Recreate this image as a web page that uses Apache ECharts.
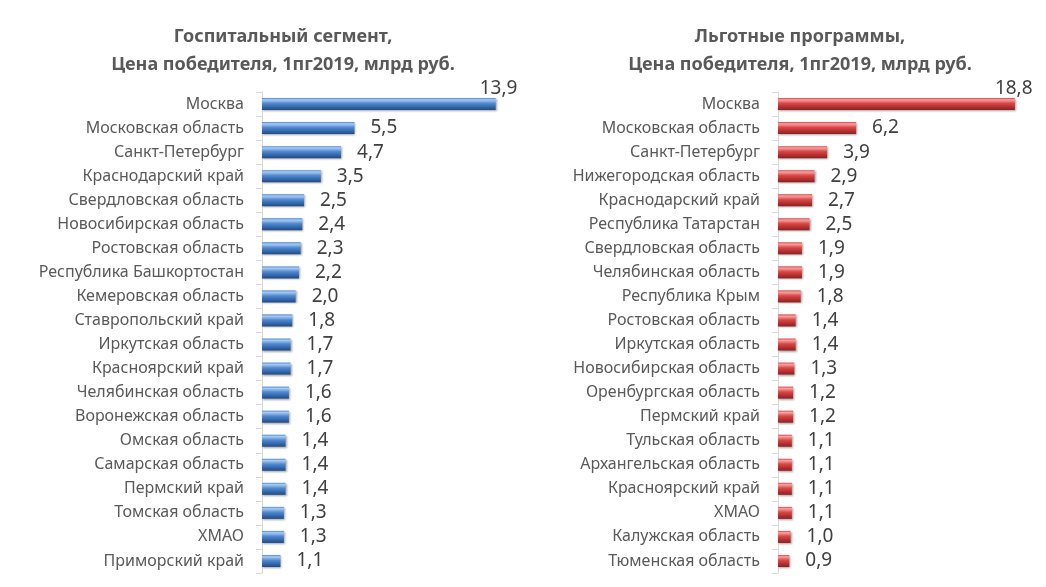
<!DOCTYPE html>
<html>
<head>
<meta charset="utf-8">
<script src="https://cdn.jsdelivr.net/npm/echarts@6/dist/echarts.min.js"></script>
<style>
  html, body { margin: 0; padding: 0; background: #fff; }
  #chart { width: 1046px; height: 587px; }
</style>
</head>
<body>
<div id="chart"></div>
<script>
// Госпитальный сегмент
var hospRegions = ['Москва', 'Московская область', 'Санкт-Петербург', 'Краснодарский край',
  'Свердловская область', 'Новосибирская область', 'Ростовская область', 'Республика Башкортостан',
  'Кемеровская область', 'Ставропольский край', 'Иркутская область', 'Красноярский край',
  'Челябинская область', 'Воронежская область', 'Омская область', 'Самарская область',
  'Пермский край', 'Томская область', 'ХМАО', 'Приморский край'];
var hospValues = [13.9, 5.5, 4.7, 3.5, 2.5, 2.4, 2.3, 2.2, 2.0, 1.8, 1.7, 1.7, 1.6, 1.6, 1.4, 1.4, 1.4, 1.3, 1.3, 1.1];

// Льготные программы
var benRegions = ['Москва', 'Московская область', 'Санкт-Петербург', 'Нижегородская область',
  'Краснодарский край', 'Республика Татарстан', 'Свердловская область', 'Челябинская область',
  'Республика Крым', 'Ростовская область', 'Иркутская область', 'Новосибирская область',
  'Оренбургская область', 'Пермский край', 'Тульская область', 'Архангельская область',
  'Красноярский край', 'ХМАО', 'Калужская область', 'Тюменская область'];
var benValues = [18.8, 6.2, 3.9, 2.9, 2.7, 2.5, 1.9, 1.9, 1.8, 1.4, 1.4, 1.3, 1.2, 1.2, 1.1, 1.1, 1.1, 1.1, 1.0, 0.9];

var chart = echarts.init(document.getElementById('chart'));

function grad(light, mid, dark) {
  return new echarts.graphic.LinearGradient(0, 0, 0, 1, [
    { offset: 0, color: mid },
    { offset: 0.15, color: light },
    { offset: 0.45, color: mid },
    { offset: 1, color: dark }
  ]);
}

var blue = grad('#a9cbf2', '#4f89d2', '#1f4a85');
var red = grad('#f5a3a3', '#dc4545', '#8c1f1f');

function catAxis(idx, data) {
  return {
    type: 'category', gridIndex: idx, data: data, inverse: true,
    axisLine: { lineStyle: { color: '#d9d9d9' } },
    axisTick: { show: true, length: 6, lineStyle: { color: '#d9d9d9' } },
    axisLabel: { color: '#595959', fontSize: 16, fontFamily: 'Noto Sans', margin: 18 }
  };
}

function valAxis(idx, max) {
  return {
    type: 'value', gridIndex: idx, min: 0, max: max, show: false,
    splitLine: { show: false }
  };
}

function barSeries(idx, values, color, firstOffset) {
  return {
    type: 'bar', xAxisIndex: idx, yAxisIndex: idx, barWidth: 12,
    data: values.map(function (v, i) {
      var d = { value: v };
      if (i === 0) d.label = { offset: firstOffset };
      return d;
    }),
    itemStyle: {
      color: color,
      shadowColor: 'rgba(0,0,0,0.35)', shadowBlur: 2, shadowOffsetX: 1, shadowOffsetY: 1
    },
    label: {
      show: true, position: 'right', distance: 16,
      color: '#404040', fontSize: 19, fontFamily: 'Noto Sans',
      formatter: function (p) { return p.value.toFixed(1).replace('.', ','); }
    }
  };
}

var titleStyle = { color: '#595959', fontSize: 18, fontWeight: 'bold', fontFamily: 'Noto Sans', lineHeight: 28 };

var option = {
  animation: false,
  title: [
    {
      text: 'Госпитальный сегмент,\nЦена победителя, 1пг2019, млрд руб.',
      left: 278, top: 18, textAlign: 'center', textStyle: titleStyle
    },
    {
      text: 'Льготные программы,\nЦена победителя, 1пг2019, млрд руб.',
      left: 795, top: 18, textAlign: 'center', textStyle: titleStyle
    }
  ],
  grid: [
    { left: 262, top: 92, width: 269, height: 481 },
    { left: 778, top: 92, width: 252, height: 481 }
  ],
  xAxis: [valAxis(0, 16), valAxis(1, 20)],
  yAxis: [catAxis(0, hospRegions), catAxis(1, benRegions)],
  series: [
    barSeries(0, hospValues, blue, [-32, -15]),
    barSeries(1, benValues, red, [-36, -15])
  ]
};

chart.setOption(option);
</script>
</body>
</html>
